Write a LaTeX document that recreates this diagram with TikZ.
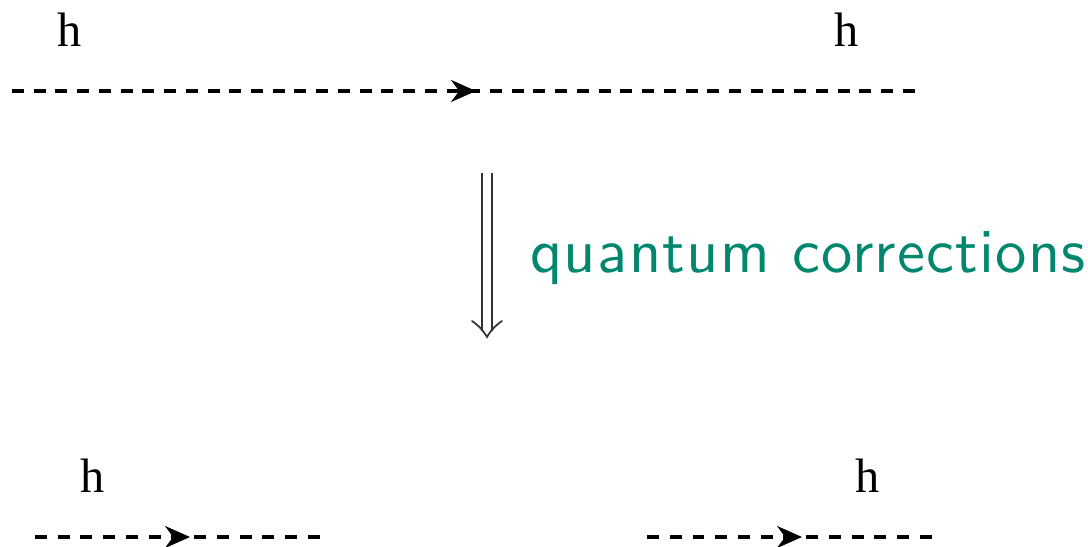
\documentclass[tikz,border=0pt]{standalone}
\usepackage{fontspec}
\setmainfont{Liberation Serif}
\newfontfamily\qcfont{lmsans10-regular.otf}[LetterSpace=2.1]
\usepackage{tikz}
\usetikzlibrary{arrows.meta, decorations.markings}
\definecolor{qcgreen}{RGB}{0,135,110}

\begin{document}
\begin{tikzpicture}[
    x=0.02cm, y=-0.02cm,
    scalar/.style={dash pattern=on 0.24cm off #1, line width=1.8pt,
      postaction={decorate, decoration={markings,
        mark=at position 0.5 with {\pgftransformxshift{0.25cm}\arrow{Stealth[length=0.5cm, width=0.44cm]}}}}},
    hlabel/.style={anchor=base, inner sep=0pt, font=\fontsize{27.5}{30}\selectfont},
    impl/.style={draw=black!80, line width=0.035cm, double distance=0.16cm, shorten >=0.12cm},
    vhead/.style={draw=black!80, line width=0.035cm, line cap=round, line join=miter},
    qclabel/.style={anchor=base west, inner sep=0pt, text=qcgreen,
      font=\qcfont\fontsize{35.6}{40}\selectfont}
  ]
    \useasboundingbox (0,0) rectangle (1088,547);

    % Tree level
    \coordinate (t1) at (12,91);
    \coordinate (t2) at (915,91);
    \draw[scalar=0.1946cm] (t1) -- (t2);
    \node[hlabel] (htl) at (70,47) {h};
    \node[hlabel] (htr) at (847,47) {h};

    % Arrow
    \coordinate (d1) at (487,173);
    \coordinate (d2) at (487,337);
    \coordinate (vl) at (472,321);
    \coordinate (vr) at (502,321);
    \draw[impl] (d1) -- (d2);
    \draw[vhead] (vl) to[bend left=12] (d2) to[bend left=12] (vr);
    \node[qclabel] (qc) at (530,273) {quantum corrections};

    % Corrected
    \coordinate (b1) at (35,537);
    \coordinate (b2) at (320,537);
    \draw[scalar=0.215cm] (b1) -- (b2);
    \node[hlabel] (hbl) at (93,492) {h};

    \coordinate (b3) at (647,537);
    \coordinate (b4) at (932,537);
    \draw[scalar=0.215cm] (b3) -- (b4);
    \node[hlabel] (hbr) at (868,492) {h};

  \end{tikzpicture}
\end{document}
